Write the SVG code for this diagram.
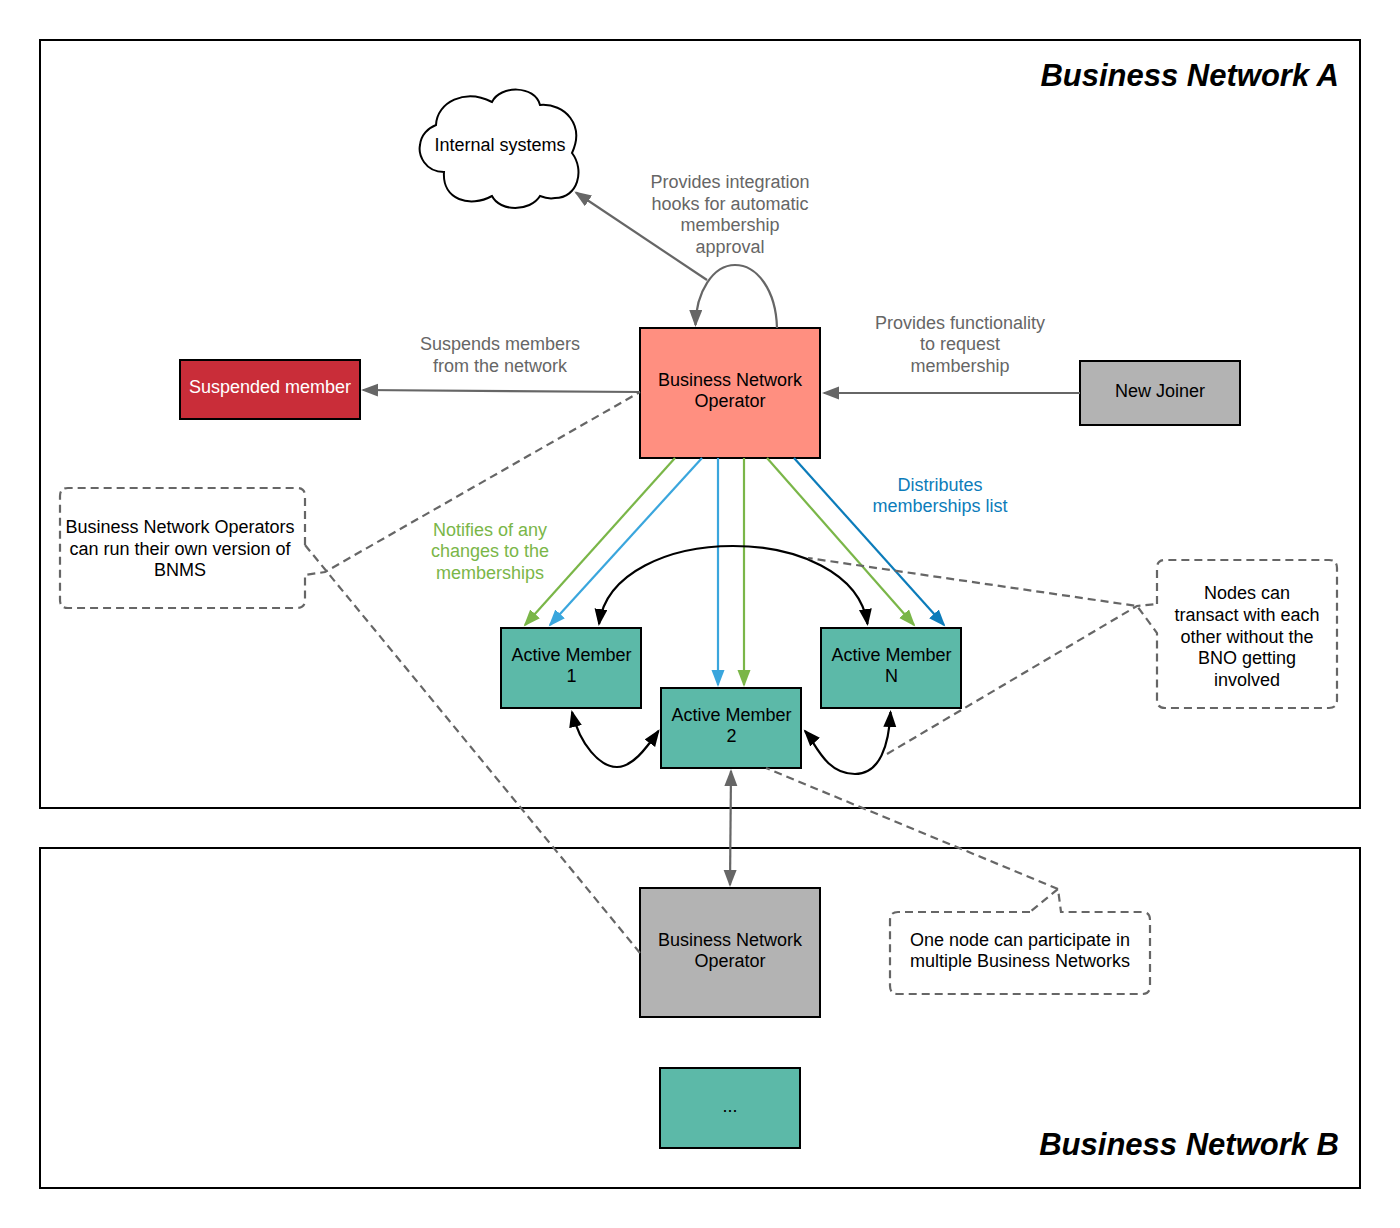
<svg xmlns="http://www.w3.org/2000/svg" width="1400" height="1228" viewBox="0 0 1400 1228">
<style>
text{font-family:"Liberation Sans",Arial,sans-serif;font-size:18px;text-anchor:middle;fill:#000}
.t{font-size:31px;font-weight:bold;font-style:italic;text-anchor:end}
.g{fill:#666}.w{fill:#fff}.lg{fill:#7ab648}.db{fill:#0c7cba}
.box{stroke:#000;stroke-width:2}
.frame{fill:#fff;stroke:#000;stroke-width:2}
.c{fill:none;stroke-width:2.200}
.note{fill:none;stroke:#666;stroke-width:2.200;stroke-dasharray:8 5}
</style>
<defs>
<marker id="ag" markerUnits="userSpaceOnUse" markerWidth="20" markerHeight="14" viewBox="0 0 20 14" refX="15" refY="6.500" orient="auto-start-reverse"><path d="M0 0L17 6.500L0 13z" fill="#666"/></marker>
<marker id="ak" markerUnits="userSpaceOnUse" markerWidth="20" markerHeight="14" viewBox="0 0 20 14" refX="15" refY="6.500" orient="auto-start-reverse"><path d="M0 0L17 6.500L0 13z" fill="#000"/></marker>
<marker id="al" markerUnits="userSpaceOnUse" markerWidth="20" markerHeight="14" viewBox="0 0 20 14" refX="15" refY="6.500" orient="auto"><path d="M0 0L17 6.500L0 13z" fill="#7ab648"/></marker>
<marker id="ab" markerUnits="userSpaceOnUse" markerWidth="20" markerHeight="14" viewBox="0 0 20 14" refX="15" refY="6.500" orient="auto"><path d="M0 0L17 6.500L0 13z" fill="#3aa6dd"/></marker>
<marker id="ad" markerUnits="userSpaceOnUse" markerWidth="20" markerHeight="14" viewBox="0 0 20 14" refX="15" refY="6.500" orient="auto"><path d="M0 0L17 6.500L0 13z" fill="#0c7cba"/></marker>
</defs>
<rect width="1400" height="1228" fill="#fff"/>
<g id="network-a"><rect class="frame" x="40" y="40" width="1320" height="768"/><text class="t" x="1339" y="86">Business Network A</text></g>
<g id="network-b"><rect class="frame" x="40" y="848" width="1320" height="340"/><text class="t" x="1339" y="1155">Business Network B</text></g>
<g id="internal-systems"><path d="M444 172C425 172 418 155 420 145C421 135 428 128 436 125C437 102 465 88 492 102C500 85 535 85 540 105C565 103 585 125 572 153C585 170 578 198 555 198C550 199 545 198 540 196C530 212 500 212 492 196C470 208 442 200 444 172z" fill="#fff" stroke="#000" stroke-width="2"/><text x="500" y="151">Internal systems</text></g>
<g id="bno-a"><rect class="box" x="640" y="328" width="180" height="130" fill="#ff8f80"/><text x="730" y="386">Business Network</text><text x="730" y="407">Operator</text></g>
<g id="suspended"><rect class="box" x="180" y="360" width="180" height="59" fill="#c92d39"/><text class="w" x="270" y="393">Suspended member</text></g>
<g id="new-joiner"><rect class="box" x="1080" y="361" width="160" height="64" fill="#b3b3b3"/><text x="1160" y="397">New Joiner</text></g>
<g id="member-1"><rect class="box" x="501" y="628" width="140" height="80" fill="#5cb9a8"/><text x="571.500" y="660.500">Active Member</text><text x="571.500" y="682">1</text></g>
<g id="member-2"><rect class="box" x="661" y="688" width="140" height="80" fill="#5cb9a8"/><text x="731.500" y="720.500">Active Member</text><text x="731.500" y="742">2</text></g>
<g id="member-n"><rect class="box" x="821" y="628" width="140" height="80" fill="#5cb9a8"/><text x="891.500" y="660.500">Active Member</text><text x="891.500" y="682">N</text></g>
<g id="bno-b"><rect class="box" x="640" y="888" width="180" height="129" fill="#b3b3b3"/><text x="730" y="946">Business Network</text><text x="730" y="967">Operator</text></g>
<g id="dots"><rect class="box" x="660" y="1068" width="140" height="80" fill="#5cb9a8"/><text x="730" y="1112">...</text></g>
<g id="connectors">
<path class="c" stroke="#666" marker-end="url(#ag)" d="M707 280L576 192.500"/>
<path class="c" stroke="#666" marker-end="url(#ag)" d="M777 328C776 290 757 265 735 265C713 265 696 292 695.500 325"/>
<path class="c" stroke="#666" marker-end="url(#ag)" d="M640 392L363 390"/>
<path class="c" stroke="#666" marker-end="url(#ag)" d="M1080 393L824 393"/>
<path class="c" stroke="#666" marker-start="url(#ag)" marker-end="url(#ag)" d="M731 771L730 885"/>
<path class="c" stroke="#7ab648" marker-end="url(#al)" d="M675 458L525 625"/>
<path class="c" stroke="#3aa6dd" marker-end="url(#ab)" d="M702 458L550 625"/>
<path class="c" stroke="#3aa6dd" marker-end="url(#ab)" d="M718 458L718 685"/>
<path class="c" stroke="#7ab648" marker-end="url(#al)" d="M744 458L744 685"/>
<path class="c" stroke="#7ab648" marker-end="url(#al)" d="M767 458L914 625"/>
<path class="c" stroke="#0c7cba" marker-end="url(#ad)" d="M794 458L944 625"/>
<path class="c" stroke="#000" marker-start="url(#ak)" marker-end="url(#ak)" d="M599 624C606 572 670 546 733 546C796 546 860 572 867.500 624"/>
<path class="c" stroke="#000" marker-start="url(#ak)" marker-end="url(#ak)" d="M572 712C580 745 600 767 617 767C632 767 645 750 658.500 731"/>
<path class="c" stroke="#000" marker-start="url(#ak)" marker-end="url(#ak)" d="M805 731C815 742 825 774 855 774C880 774 889 745 890.500 712"/>
</g>
<g id="note-bnms"><path class="note" d="M305 545V496Q305 488 297 488H68Q60 488 60 496V600Q60 608 68 608H297Q305 608 305 600V575L325 572L640 392"/><path class="note" d="M305 545L640 953"/><text x="180" y="533">Business Network Operators</text><text x="180" y="555">can run their own version of</text><text x="180" y="576">BNMS</text></g>
<g id="note-nodes"><path class="note" d="M1157 604V568Q1157 560 1165 560H1329Q1337 560 1337 568V700Q1337 708 1329 708H1165Q1157 708 1157 700V633L1137 606L808 558"/><path class="note" d="M887 754L1137 606L1157 604"/><text x="1247" y="599">Nodes can</text><text x="1247" y="620.500">transact with each</text><text x="1247" y="642.500">other without the</text><text x="1247" y="664">BNO getting</text><text x="1247" y="685.500">involved</text></g>
<g id="note-multi"><path class="note" d="M1030 912H898Q890 912 890 920V986Q890 994 898 994H1142Q1150 994 1150 986V920Q1150 912 1142 912H1061L1058 889L1030 912"/><path class="note" d="M1058 889L766 768"/><text x="1020" y="946">One node can participate in</text><text x="1020" y="967">multiple Business Networks</text></g>
<g id="labels">
<text class="g" x="730" y="187.500">Provides integration</text><text class="g" x="730" y="209.500">hooks for automatic</text><text class="g" x="730" y="231">membership</text><text class="g" x="730" y="252.500">approval</text>
<text class="g" x="500" y="349.500">Suspends members</text><text class="g" x="500" y="371.500">from the network</text>
<text class="g" x="960" y="329">Provides functionality</text><text class="g" x="960" y="350">to request</text><text class="g" x="960" y="372">membership</text>
<text class="lg" x="490" y="535.500">Notifies of any</text><text class="lg" x="490" y="557">changes to the</text><text class="lg" x="490" y="578.500">memberships</text>
<text class="db" x="940" y="490.500">Distributes</text><text class="db" x="940" y="512">memberships list</text>
</g>
</svg>
